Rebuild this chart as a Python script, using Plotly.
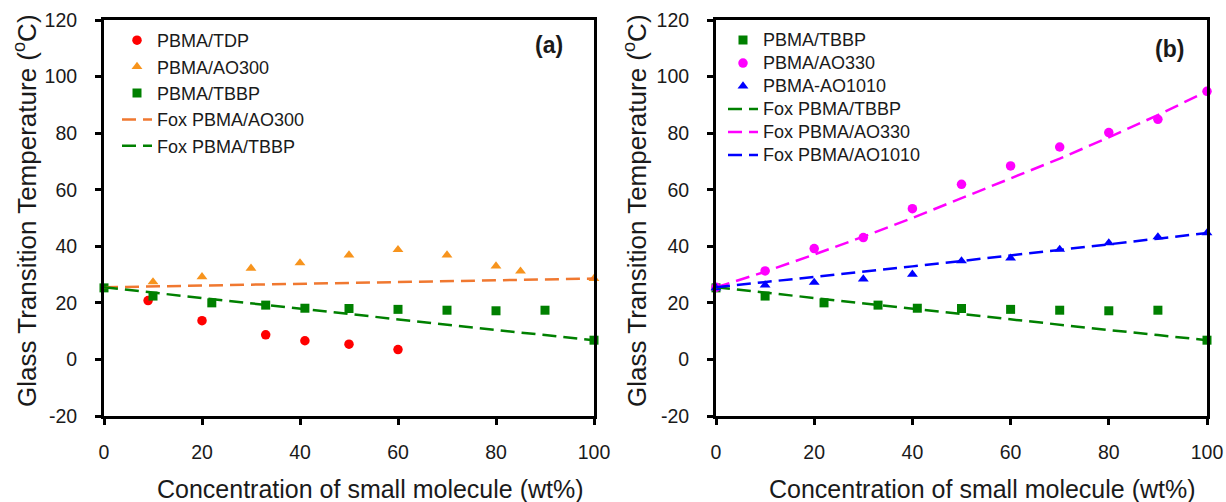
import plotly.graph_objects as go

# ---------------- data ----------------
x_fox = [0, 10, 20, 30, 40, 50, 60, 70, 80, 90, 100]

# panel (a)
x_tdp = [9, 20, 33, 41, 50, 60]
tg_tdp = [20.8, 13.7, 8.7, 6.6, 5.4, 3.5]

x_ao300 = [10, 20, 30, 40, 50, 60, 70, 80, 85, 100]
tg_ao300 = [27.4, 29.2, 32.2, 34.1, 36.9, 38.8, 36.9, 33.0, 31.2, 28.6]

x_tbbp = [0, 10, 22, 33, 41, 50, 60, 70, 80, 90, 100]
tg_tbbp = [25.3, 22.4, 20.0, 19.2, 18.1, 18.0, 17.7, 17.4, 17.2, 17.4, 6.8]

fox_ao300 = [25.5, 25.8, 26.1, 26.4, 26.7, 27.0, 27.3, 27.7, 28.0, 28.3, 28.6]
fox_tbbp = [25.5, 23.6, 21.6, 19.7, 17.8, 15.9, 14.0, 12.2, 10.4, 8.6, 6.8]

# panel (b)
x_ao330 = [0, 10, 20, 30, 40, 50, 60, 70, 80, 90, 100]
tg_ao330 = [25.5, 31.3, 39.2, 43.1, 53.3, 61.9, 68.4, 75.1, 80.2, 84.9, 94.8]
fox_ao330 = [25.5, 31.0, 37.1, 43.4, 50.0, 57.0, 64.0, 71.0, 78.5, 86.4, 94.8]

x_ao1010 = [0, 10, 20, 30, 40, 50, 60, 70, 80, 90, 100]
tg_ao1010 = [25.3, 26.3, 27.2, 28.4, 30.1, 34.8, 35.8, 38.9, 41.2, 43.3, 44.7]
fox_ao1010 = [25.5, 27.3, 29.1, 31.0, 32.9, 34.8, 36.7, 38.7, 40.7, 42.7, 44.7]

x_ticks = [0, 20, 40, 60, 80, 100]
x_tick_labels = ["0", "20", "40", "60", "80", "100"]
y_ticks = [-20, 0, 20, 40, 60, 80, 100, 120]
y_tick_labels = ["-20", "0", "20", "40", "60", "80", "100", "120"]

# ---------------- styling ----------------
W, H = 1226, 502
FONT = "Liberation Sans, Arial, Helvetica, sans-serif"
TXT = "#1a1a1a"
RED = "#ff0000"
ORANGE_PT = "#f7941d"
ORANGE_LN = "#f07830"
GREEN = "#008000"
MAGENTA = "#ff00ff"
BLUE = "#0000ff"
DASH = "14px,7px"
LW = 2.5


def px_x(p):
    return p / W


def px_y(p):
    return 1 - p / H


fig = go.Figure()


def pts(x, y, name, color, symbol, size, xa, ya, legend):
    fig.add_trace(go.Scatter(
        x=x, y=y, name=name, mode="markers", xaxis=xa, yaxis=ya,
        legend=legend, cliponaxis=False,
        marker=dict(color=color, symbol=symbol, size=size, line=dict(width=0)),
    ))


def fox(x, y, name, color, xa, ya, legend):
    fig.add_trace(go.Scatter(
        x=x, y=y, name=name, mode="lines", xaxis=xa, yaxis=ya,
        legend=legend, cliponaxis=False,
        line=dict(color=color, width=LW, dash=DASH),
    ))


# panel (a)
pts(x_tdp, tg_tdp, "PBMA/TDP", RED, "circle", 9.5, "x", "y", "legend")
pts(x_ao300, tg_ao300, "PBMA/AO300", ORANGE_PT, "triangle-up", 9.5, "x", "y", "legend")
pts(x_tbbp, tg_tbbp, "PBMA/TBBP", GREEN, "square", 9, "x", "y", "legend")
fox(x_fox, fox_ao300, "Fox PBMA/AO300", ORANGE_LN, "x", "y", "legend")
fox(x_fox, fox_tbbp, "Fox PBMA/TBBP", GREEN, "x", "y", "legend")

# panel (b): tighter legend rows, same 18px text
S18 = '<span style="font-size:18px">%s</span>'
pts(x_tbbp, tg_tbbp, S18 % "PBMA/TBBP", GREEN, "square", 9, "x2", "y2", "legend2")
pts(x_ao330, tg_ao330, S18 % "PBMA/AO330", MAGENTA, "circle", 9.5, "x2", "y2", "legend2")
pts(x_ao1010, tg_ao1010, S18 % "PBMA-AO1010", BLUE, "triangle-up", 9.5, "x2", "y2", "legend2")
fox(x_fox, fox_tbbp, S18 % "Fox PBMA/TBBP", GREEN, "x2", "y2", "legend2")
fox(x_fox, fox_ao330, S18 % "Fox PBMA/AO330", MAGENTA, "x2", "y2", "legend2")
fox(x_fox, fox_ao1010, S18 % "Fox PBMA/AO1010", BLUE, "x2", "y2", "legend2")

axis_common = dict(
    showline=True, linewidth=3, linecolor="black", mirror=True,
    showgrid=False, zeroline=False, automargin=False,
    ticks="outside", ticklen=6, tickwidth=2.5, tickcolor="black",
    tickfont=dict(family=FONT, size=19.5, color=TXT),
    fixedrange=True,
)
x_axis = dict(range=[0, 100], tickvals=x_ticks, ticktext=x_tick_labels,
              ticklabelstandoff=11, **axis_common)
y_axis = dict(range=[-20, 120], tickvals=y_ticks, ticktext=y_tick_labels,
              ticklabelstandoff=14, **axis_common)

y_dom = [px_y(416), px_y(20)]

fig.update_layout(
    width=W, height=H, autosize=False,
    margin=dict(l=0, r=0, t=0, b=0, pad=0, autoexpand=False),
    paper_bgcolor="white", plot_bgcolor="white",
    font=dict(family=FONT, color=TXT),
    xaxis=dict(domain=[px_x(104), px_x(594)], anchor="y", **x_axis),
    yaxis=dict(domain=y_dom, anchor="x", **y_axis),
    xaxis2=dict(domain=[px_x(716), px_x(1207)], anchor="y2", **x_axis),
    yaxis2=dict(domain=y_dom, anchor="x2", **y_axis),
    legend=dict(x=px_x(117), y=px_y(22), xanchor="left", yanchor="top",
                font=dict(family=FONT, size=18, color=TXT),
                bgcolor="rgba(0,0,0,0)", borderwidth=0, itemwidth=30,
                tracegroupgap=0),
    legend2=dict(x=px_x(723), y=px_y(23.5), xanchor="left", yanchor="top",
                 font=dict(family=FONT, size=15.4, color=TXT),
                 bgcolor="rgba(0,0,0,0)", borderwidth=0, itemwidth=30,
                 tracegroupgap=0),
    showlegend=True,
)

ytitle = "Glass Transition Temperature (<sup>o</sup>C)"
xtitle = "Concentration of small molecule (wt%)"
for x_c in (25, 635):
    fig.add_annotation(text=ytitle, xref="paper", yref="paper", x=px_x(x_c), y=px_y(211),
                       xanchor="center", yanchor="middle", textangle=-90, showarrow=False,
                       font=dict(family=FONT, size=26, color=TXT))
for x_c in (370, 982):
    fig.add_annotation(text=xtitle, xref="paper", yref="paper", x=px_x(x_c), y=px_y(489),
                       xanchor="center", yanchor="middle", showarrow=False,
                       font=dict(family=FONT, size=25, color=TXT))

fig.add_annotation(text="<b>(a)</b>", xref="paper", yref="paper", x=px_x(549), y=px_y(45),
                   xanchor="center", yanchor="middle", showarrow=False,
                   font=dict(family=FONT, size=23, color=TXT))
fig.add_annotation(text="<b>(b)</b>", xref="paper", yref="paper", x=px_x(1169), y=px_y(49),
                   xanchor="center", yanchor="middle", showarrow=False,
                   font=dict(family=FONT, size=23, color=TXT))

fig.write_html("out.html", config={"displayModeBar": False})
